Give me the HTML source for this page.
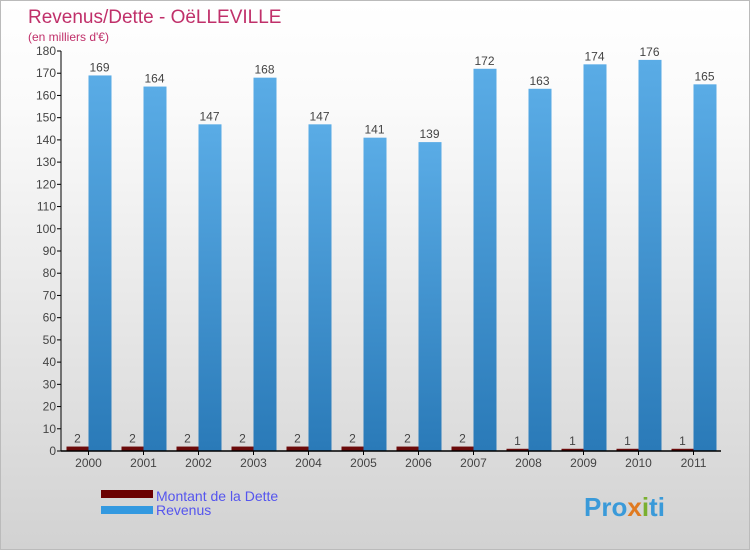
<!DOCTYPE html>
<html><head><meta charset="utf-8"><style>
body{margin:0}
#c{width:750px;height:550px;position:relative;overflow:hidden;border:1px solid #bbb;box-sizing:border-box;background:linear-gradient(#fff,#fafafa 20%,#d2d2d2);font-family:"Liberation Sans",sans-serif}
</style></head><body>
<div id="c">
<svg width="750" height="550" id="svg">
<defs>
<linearGradient id="rg" x1="0" y1="0" x2="0" y2="1"><stop offset="0" stop-color="#5aace6"/><stop offset="1" stop-color="#2a7ab8"/></linearGradient>
</defs>
<text x="27" y="22" font-size="19" fill="#c0306a">Revenus/Dette - OëLLEVILLE</text>
<text x="27" y="40" font-size="12" fill="#c0306a">(en milliers d'€)</text>
<g id="g"></g>
<rect x="100" y="489" width="52" height="8" fill="#6b0000"/>
<rect x="100" y="505" width="52" height="8" fill="#3399e0"/>
<text x="155" y="500" font-size="14" fill="#5555ee">Montant de la Dette</text>
<text x="155" y="514" font-size="14" fill="#5555ee">Revenus</text>
<text x="583" y="515" font-size="26" font-weight="bold" fill="#3a9ad9">Pro<tspan fill="#e07a20">x</tspan><tspan fill="#7ab030">i</tspan>ti</text>
</svg></div>
<script>
const years=["2000","2001","2002","2003","2004","2005","2006","2007","2008","2009","2010","2011"];
const dette=[2,2,2,2,2,2,2,2,1,1,1,1];
const revenus=[169,164,147,168,147,141,139,172,163,174,176,165];
const yTicks=[0,10,20,30,40,50,60,70,80,90,100,110,120,130,140,150,160,170,180];
const NS="http://www.w3.org/2000/svg";
const g=document.getElementById('g');
const x0=60,step=55,yb=450,yt=50,ymax=180;
const y=v=>yb-(v/ymax)*(yb-yt);
function mk(t,a,txt){const e=document.createElementNS(NS,t);for(const k in a)e.setAttribute(k,a[k]);if(txt!=null)e.textContent=txt;g.appendChild(e);return e;}
yTicks.forEach(v=>{
 const l=mk('line',{x1:x0-4,x2:x0,y1:y(v),y2:y(v),stroke:'#000'});
 
 
 const t=mk('text',{x:x0-5,y:y(v)+4,'font-size':12,fill:'#444','text-anchor':'end'},v);
 
 
});
years.forEach((yr,i)=>{
 const cx=x0+step*i+step/2;
 const d=mk('rect',{x:cx-22,y:y(dette[i]),width:22,height:yb-y(dette[i]),fill:'#6b0a0a'});
 
 
 const r=mk('rect',{x:cx,y:y(revenus[i]),width:23,height:yb-y(revenus[i]),fill:'url(#rg)'});
 
 
 const dl=mk('text',{x:cx-11,y:y(dette[i])-4,'font-size':12,fill:'#444','text-anchor':'middle'},dette[i]);
 
 
 const rl=mk('text',{x:cx+11,y:y(revenus[i])-4,'font-size':12,fill:'#444','text-anchor':'middle'},revenus[i]);
 
 
 const tk=mk('line',{x1:cx,x2:cx,y1:yb,y2:yb+4,stroke:'#000'});
 
 
 const xl=mk('text',{x:cx,y:yb+16,'font-size':12,fill:'#444','text-anchor':'middle'},yr);
 
 
});
const ya=mk('line',{x1:x0,x2:x0,y1:yt,y2:yb,stroke:'#000'});


const xa=mk('line',{x1:x0,x2:x0+step*years.length,y1:yb,y2:yb,stroke:'#000','stroke-width':1.5});


</script>
</body></html>
